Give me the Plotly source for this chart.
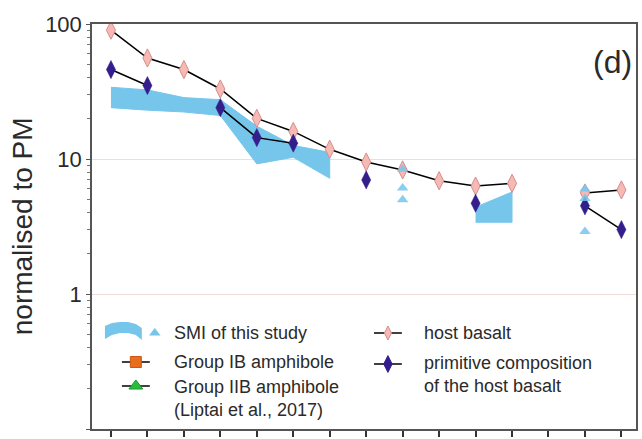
import plotly.graph_objects as go

# ---------------- data ----------------
x_pos = list(range(1, 16))  # 15 element positions (no labels shown)

host_basalt = [90, 56, 46, 33, 20, 16, 11.8, 9.5, 8.3, 6.9, 6.3, 6.6, None, 5.6, 5.9]
primitive = [46, 35, None, 24, 14.4, 13.1, None, 7.0, None, None, 4.7, None, None, 4.5, 3.0]

smi_band1_x = [1, 2, 3, 4, 5, 6, 7]
smi_band1_hi = [34, 32.5, 28.5, 27.5, 17.5, 12.6, 11.2]
smi_band1_lo = [24, 23, 22.3, 21, 9.2, 10.3, 7.2]

smi_band2_x = [11, 12]
smi_band2_hi = [4.4, 5.7]
smi_band2_lo = [3.4, 3.4]

smi_tri_x = [9, 9, 9, 14, 14, 14]
smi_tri_y = [8.4, 6.1, 5.0, 6.0, 5.1, 2.9]

y_tickvals = [0.1, 1, 10, 100]
y_ticktext = ["0.1", "1", "10", "100"]
y_minor_vals = [m * d for d in (0.1, 1, 10) for m in range(2, 10)]

# ---------------- style ----------------
FONT = "Liberation Sans, Arial, sans-serif"
BLUE = "rgb(118,198,236)"
PINK = "rgb(246,186,180)"
PINK_EDGE = "rgb(215,140,140)"
DARK = "rgb(52,30,140)"

# plot area in pixels
L, R, T, B = 92, 638, 24, 429
W, H = 642, 439

fig = go.Figure()

def band(xs, hi, lo, **kw):
    fig.add_trace(go.Scatter(
        x=list(xs) + list(xs)[::-1], y=list(hi) + list(lo)[::-1],
        fill="toself", fillcolor=BLUE, line=dict(color=BLUE, width=1),
        mode="lines", hoverinfo="skip", showlegend=False, **kw))

band(smi_band1_x, smi_band1_hi, smi_band1_lo)
band(smi_band2_x, smi_band2_hi, smi_band2_lo)

fig.add_trace(go.Scatter(
    x=x_pos, y=host_basalt, mode="lines+markers", connectgaps=False,
    line=dict(color="black", width=1.5),
    marker=dict(symbol="diamond-tall", size=13, color=PINK,
                line=dict(color=PINK_EDGE, width=1)),
    showlegend=False))

fig.add_trace(go.Scatter(
    x=x_pos, y=primitive, mode="lines+markers", connectgaps=False,
    line=dict(color="black", width=1.5),
    marker=dict(symbol="diamond-tall", size=13, color=DARK,
                line=dict(color=DARK, width=0.5)),
    showlegend=False))

fig.add_trace(go.Scatter(
    x=smi_tri_x, y=smi_tri_y, mode="markers",
    marker=dict(symbol="triangle-up", size=10, color=BLUE, opacity=0.85),
    showlegend=False))

# ---------------- manual legend (overlay pixel axes) ----------------
lx = dict(xaxis="x2", yaxis="y2", showlegend=False, hoverinfo="skip")

# SMI band swatch (wavy)
sw_x = [105, 112, 120, 128, 136, 142, 142, 136, 128, 120, 112, 105]
sw_y = [326, 323, 322, 322, 324, 328, 340, 335, 333, 333, 335, 339]
fig.add_trace(go.Scatter(x=sw_x, y=sw_y, fill="toself", fillcolor=BLUE,
                         line=dict(color=BLUE, width=0), mode="lines", **lx))
fig.add_trace(go.Scatter(x=[155], y=[333], mode="markers",
                         marker=dict(symbol="triangle-up", size=10, color=BLUE), **lx))

def legend_line(xc, yc, symbol, color, edge, size):
    fig.add_trace(go.Scatter(x=[xc - 14, xc + 14], y=[yc, yc], mode="lines",
                             line=dict(color="black", width=1.5), **lx))
    fig.add_trace(go.Scatter(x=[xc], y=[yc], mode="markers",
                             marker=dict(symbol=symbol, size=size, color=color,
                                         line=dict(color=edge, width=1)), **lx))

legend_line(136, 362, "square", "rgb(232,110,30)", "rgb(200,90,20)", 11)
legend_line(136, 386, "triangle-up", "rgb(40,190,60)", "rgb(30,150,50)", 12)
legend_line(389, 333, "diamond-tall", PINK, PINK_EDGE, 10)
legend_line(389, 364, "diamond-tall", DARK, DARK, 12)

legend_texts = [
    (172, 333, "SMI of this study"),
    (172, 362, "Group IB amphibole"),
    (172, 387, "Group IIB amphibole"),
    (172, 410, "(Liptai et al., 2017)"),
    (423, 333, "host basalt"),
    (423, 363, "primitive composition"),
    (423, 386, "of the host basalt"),
]
annotations = []
for tx, ty, txt in legend_texts:
    annotations.append(dict(x=tx, y=ty, xref="x2", yref="y2", text=txt,
                            showarrow=False, xanchor="left", yanchor="middle",
                            font=dict(family=FONT, size=18, color="#2a2a2a")))

def px(xp):
    return (xp - L) / (R - L)

def py(yp):
    return (B - yp) / (B - T)

annotations.append(dict(x=px(22), y=py(226), xref="paper", yref="paper",
                        text="normalised to PM", textangle=-90, showarrow=False,
                        xanchor="center", yanchor="middle",
                        font=dict(family=FONT, size=28, color="#2a2a2a")))
annotations.append(dict(x=px(614), y=py(62), xref="paper", yref="paper",
                        text="(d)", showarrow=False, xanchor="center", yanchor="middle",
                        font=dict(family=FONT, size=32, color="#2a2a2a")))

fig.update_layout(
    width=W, height=H,
    margin=dict(l=L, r=W - R, t=T, b=H - B),
    paper_bgcolor="white", plot_bgcolor="white",
    font=dict(family=FONT, color="#2a2a2a"),
    annotations=annotations,
    xaxis=dict(range=[0.48, 15.4], tickvals=x_pos, showticklabels=False,
               ticks="outside", ticklen=6, tickwidth=1.5, tickcolor="#333",
               showline=True, linecolor="#555", linewidth=1.5, mirror=True,
               showgrid=False, zeroline=False),
    yaxis=dict(type="log", range=[-1, 2], tickvals=y_tickvals, ticktext=y_ticktext,
               ticks="outside", ticklen=4, tickcolor="#555",
               tickfont=dict(family=FONT, size=22, color="#2a2a2a"),
               minor=dict(ticks="outside", ticklen=3, tickcolor="#777",
                          tickmode="array", tickvals=y_minor_vals, showgrid=False),
               showline=True, linecolor="#555", linewidth=1.5, mirror=True,
               showgrid=True, gridcolor="rgba(235,205,205,0.7)", gridwidth=1,
               zeroline=False),
    xaxis2=dict(overlaying="x", anchor="y2", range=[L, R], visible=False,
                fixedrange=True),
    yaxis2=dict(overlaying="y", anchor="x2", range=[B, T], visible=False,
                fixedrange=True),
)

fig.write_html("out.html")
